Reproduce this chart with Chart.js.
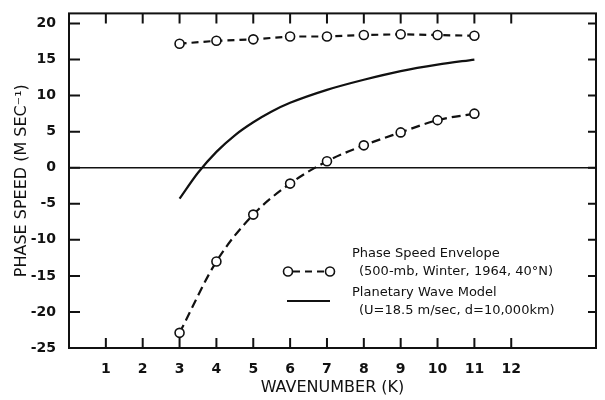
<!DOCTYPE html>
<html>
<head>
<meta charset="utf-8">
<script src="https://cdn.jsdelivr.net/npm/chart.js@4.4.1/dist/chart.umd.min.js"></script>
<style>
  body { margin: 0; background: #fff; }
  #grafico { display: block; }
</style>
</head>
<body>
<canvas id="grafico" width="605" height="400"></canvas>
<script>
// wavenumbers where the observed envelope was plotted
const waveNumbers = [3, 4, 5, 6, 7, 8, 9, 10, 11];
const envelopeTop = [17.2, 17.6, 17.8, 18.2, 18.2, 18.4, 18.5, 18.4, 18.3];
const envelopeBottom = [-22.9, -13.0, -6.5, -2.2, 0.9, 3.1, 4.9, 6.6, 7.5];

// planetary wave model curve
const modelK = [3, 3.5, 4, 4.5, 5, 5.5, 6, 7, 8, 9, 10, 11];
const modelSpeed = [-4.3, -0.7, 2.2, 4.5, 6.3, 7.8, 9.0, 10.8, 12.2, 13.4, 14.3, 15.0];

const xTicks = [1, 2, 3, 4, 5, 6, 7, 8, 9, 10, 11, 12];
const yTicks = [20, 15, 10, 5, 0, -5, -10, -15, -20, -25];

const legendLabels = [
  ['Phase Speed Envelope', '(500-mb, Winter, 1964, 40°N)'],
  ['Planetary Wave Model', '(U=18.5 m/sec, d=10,000km)']
];

function pontos(xs, ys) {
  return xs.map((x, i) => ({ x: x, y: ys[i] }));
}

const moldura = {
  id: 'moldura',
  beforeDatasetsDraw(chart) {
    const { ctx, chartArea: a, scales: { x, y } } = chart;
    ctx.save();
    ctx.strokeStyle = '#111';
    ctx.lineWidth = 2;
    ctx.strokeRect(a.left, a.top, a.right - a.left, a.bottom - a.top);

    // zero line
    const y0 = y.getPixelForValue(0);
    ctx.lineWidth = 1.6;
    ctx.beginPath();
    ctx.moveTo(a.left, y0);
    ctx.lineTo(a.right, y0);
    ctx.stroke();

    // inward ticks
    ctx.lineWidth = 2;
    ctx.beginPath();
    xTicks.forEach(t => {
      const px = x.getPixelForValue(t);
      ctx.moveTo(px, a.bottom);
      ctx.lineTo(px, a.bottom - 10);
      ctx.moveTo(px, a.top);
      ctx.lineTo(px, a.top + 10);
    });
    yTicks.forEach(t => {
      const py = y.getPixelForValue(t);
      ctx.moveTo(a.left, py);
      ctx.lineTo(a.left + 11, py);
      ctx.moveTo(a.right, py);
      ctx.lineTo(a.right - 8, py);
    });
    ctx.stroke();
    ctx.restore();
  },
  afterDraw(chart) {
    const { ctx } = chart;
    ctx.save();
    ctx.strokeStyle = '#111';
    ctx.fillStyle = '#111';

    // legend: circle - dash - circle
    ctx.lineWidth = 2.2;
    ctx.setLineDash([7, 5]);
    ctx.beginPath();
    ctx.moveTo(293, 271.5);
    ctx.lineTo(326, 271.5);
    ctx.stroke();
    ctx.setLineDash([]);
    ctx.lineWidth = 1.6;
    [288, 330].forEach(cx => {
      ctx.beginPath();
      ctx.arc(cx, 271.5, 4.5, 0, Math.PI * 2);
      ctx.fillStyle = '#fff';
      ctx.fill();
      ctx.stroke();
    });
    ctx.lineWidth = 2.2;
    ctx.beginPath();
    ctx.moveTo(287, 301);
    ctx.lineTo(330, 301);
    ctx.stroke();

    ctx.fillStyle = '#111';
    ctx.font = '13px "DejaVu Sans"';
    ctx.textBaseline = 'middle';
    ctx.textAlign = 'left';
    ctx.fillText(legendLabels[0][0], 352, 254);
    ctx.fillText(legendLabels[0][1], 359, 272);
    ctx.fillText(legendLabels[1][0], 352, 293);
    ctx.fillText(legendLabels[1][1], 359, 311);
    ctx.restore();
  }
};

const fonteTicks = { family: 'DejaVu Sans', size: 14, weight: 'bold' };

new Chart(document.getElementById('grafico'), {
  type: 'scatter',
  data: {
    datasets: [
      {
        label: 'envelope top',
        data: pontos(waveNumbers, envelopeTop),
        showLine: true,
        borderColor: '#111',
        borderWidth: 2.2,
        borderDash: [7, 5],
        tension: 0,
        pointRadius: 4.5,
        pointBorderWidth: 1.6,
        pointBackgroundColor: '#fff',
        pointBorderColor: '#111'
      },
      {
        label: 'envelope bottom',
        data: pontos(waveNumbers, envelopeBottom),
        showLine: true,
        borderColor: '#111',
        borderWidth: 2.2,
        borderDash: [9, 5],
        cubicInterpolationMode: 'monotone',
        pointRadius: 4.5,
        pointBorderWidth: 1.6,
        pointBackgroundColor: '#fff',
        pointBorderColor: '#111'
      },
      {
        label: 'model',
        data: pontos(modelK, modelSpeed),
        showLine: true,
        borderColor: '#111',
        borderWidth: 2.2,
        cubicInterpolationMode: 'monotone',
        pointRadius: 0
      }
    ]
  },
  options: {
    responsive: false,
    animation: false,
    devicePixelRatio: 1,
    layout: { padding: { top: 7, right: 9, left: 0, bottom: 0 } },
    plugins: {
      legend: { display: false },
      tooltip: { enabled: false }
    },
    scales: {
      x: {
        type: 'linear',
        min: 0,
        max: 14.3,
        afterBuildTicks: (scale) => { scale.ticks = xTicks.map(v => ({ value: v })); },
        afterFit: (scale) => { scale.height = 52; },
        grid: { display: false },
        border: { display: false },
        ticks: { font: fonteTicks, color: '#111', padding: 5, maxRotation: 0 },
        title: {
          display: true,
          text: 'WAVENUMBER (K)',
          color: '#111',
          font: { family: 'DejaVu Sans', size: 16 },
          padding: { top: 0, bottom: 3 }
        }
      },
      y: {
        type: 'linear',
        min: -25,
        max: 21.4,
        afterBuildTicks: (scale) => { scale.ticks = yTicks.map(v => ({ value: v })); },
        afterFit: (scale) => { scale.width = 69; },
        grid: { display: false },
        border: { display: false },
        ticks: { font: fonteTicks, color: '#111', padding: 5 },
        title: {
          display: true,
          text: 'PHASE SPEED (M SEC⁻¹)',
          color: '#111',
          font: { family: 'DejaVu Sans', size: 16 },
          padding: { top: 12, bottom: 0 }
        }
      }
    }
  },
  plugins: [moldura]
});
</script>
</body>
</html>
